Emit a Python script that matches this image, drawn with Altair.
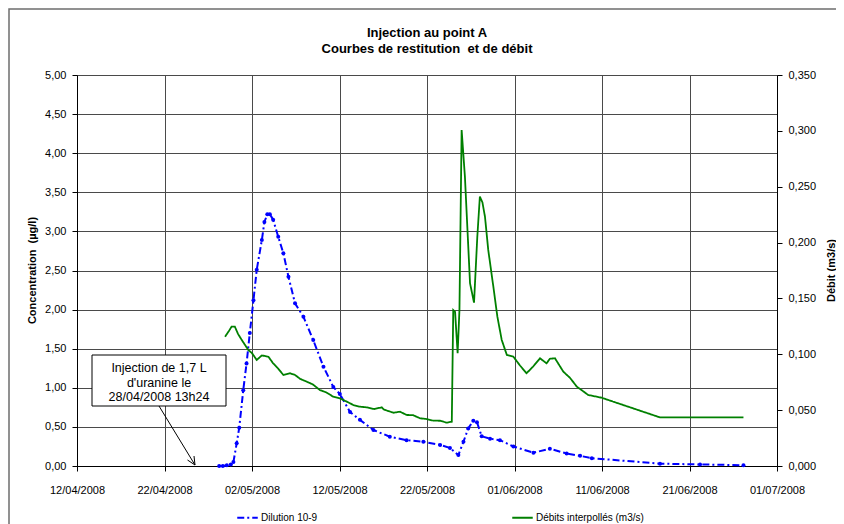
import altair as alt
import pandas as pd

title_lines = ["Injection au point A", "Courbes de restitution\u00a0 et de débit"]
series_names = ["Dilution 10-9", "Débits interpollés (m3/s)"]
series_colors = ["#0000ff", "#008000"]
series_dashes = [[7, 3, 2, 3], [1, 0]]
left_title = "Concentration\u00a0 (µg/l)"
right_title = "Débit (m3/s)"
annotation_lines = ["Injection de 1,7 L", "d'uranine le", "28/04/2008 13h24"]

x_ticks = [(2008, 4, 12), (2008, 4, 22), (2008, 5, 2), (2008, 5, 12), (2008, 5, 22),
           (2008, 6, 1), (2008, 6, 11), (2008, 6, 21), (2008, 7, 1)]
conc_ticks = [0, 0.5, 1, 1.5, 2, 2.5, 3, 3.5, 4, 4.5, 5]
debit_ticks = [0, 0.05, 0.1, 0.15, 0.2, 0.25, 0.3, 0.35]

blue_dates = [
    "2008-04-28 06:00", "2008-04-28 16:00", "2008-04-29 03:00", "2008-04-29 14:00",
    "2008-04-29 21:00", "2008-04-30 06:00", "2008-04-30 13:00", "2008-05-01 00:00",
    "2008-05-01 09:00", "2008-05-01 18:00", "2008-05-02 04:00", "2008-05-02 13:00",
    "2008-05-03 03:00", "2008-05-03 10:00", "2008-05-03 18:00", "2008-05-04 01:00",
    "2008-05-04 10:00", "2008-05-05 00:00", "2008-05-05 14:00", "2008-05-06 04:00",
    "2008-05-06 22:00", "2008-05-07 21:00", "2008-05-09 00:00", "2008-05-10 04:00",
    "2008-05-11 07:00", "2008-05-12 01:00", "2008-05-13 05:00", "2008-05-14 08:00",
    "2008-05-15 21:00", "2008-05-17 18:00", "2008-05-19 16:00", "2008-05-21 14:00",
    "2008-05-23 12:00", "2008-05-24 15:00", "2008-05-25 14:00", "2008-05-26 04:00",
    "2008-05-26 17:00", "2008-05-27 07:00", "2008-05-27 17:00", "2008-05-28 06:00",
    "2008-05-29 05:00", "2008-05-30 08:00", "2008-05-31 21:00", "2008-06-03 04:00",
    "2008-06-05 01:00", "2008-06-06 23:00", "2008-06-08 12:00", "2008-06-09 20:00",
    "2008-06-17 15:00", "2008-06-22 05:00", "2008-06-27 04:00",
]
blue_conc = [
    0.00, 0.00, 0.01, 0.02,
    0.05, 0.29, 0.49, 0.97,
    1.31, 1.70, 2.12, 2.51,
    2.89, 3.12, 3.22, 3.22,
    3.15, 2.93, 2.72, 2.42,
    2.08, 1.91, 1.61, 1.27,
    1.01, 0.92, 0.69, 0.59,
    0.46, 0.375, 0.33, 0.31,
    0.27, 0.23, 0.14, 0.31,
    0.48, 0.58, 0.56, 0.38,
    0.35, 0.33, 0.25, 0.17,
    0.22, 0.16, 0.13, 0.10,
    0.03, 0.02, 0.01,
]

green_dates = [
    "2008-04-28 22:00", "2008-04-29 09:00", "2008-04-29 16:00", "2008-04-30 01:00",
    "2008-04-30 10:00", "2008-04-30 20:00", "2008-05-01 14:00", "2008-05-02 00:00",
    "2008-05-02 13:00", "2008-05-03 03:00", "2008-05-03 21:00", "2008-05-04 10:00",
    "2008-05-04 23:00", "2008-05-05 14:00", "2008-05-06 08:00", "2008-05-06 22:00",
    "2008-05-07 12:00", "2008-05-08 06:00", "2008-05-08 23:00", "2008-05-09 18:00",
    "2008-05-10 11:00", "2008-05-11 07:00", "2008-05-12 01:00", "2008-05-12 20:00",
    "2008-05-13 14:00", "2008-05-14 08:00", "2008-05-15 03:00", "2008-05-15 23:00",
    "2008-05-16 20:00", "2008-05-17 02:00", "2008-05-18 04:00", "2008-05-18 22:00",
    "2008-05-19 16:00", "2008-05-20 10:00", "2008-05-21 05:00", "2008-05-22 00:00",
    "2008-05-22 17:00", "2008-05-23 12:00", "2008-05-24 06:00", "2008-05-24 20:00",
    "2008-05-25 00:00", "2008-05-25 05:00", "2008-05-25 12:00", "2008-05-25 17:00",
    "2008-05-25 23:00", "2008-05-26 08:00", "2008-05-26 22:00", "2008-05-27 09:00",
    "2008-05-27 18:00", "2008-05-28 01:00", "2008-05-28 08:00", "2008-05-28 15:00",
    "2008-05-29 00:00", "2008-05-29 14:00", "2008-05-30 01:00", "2008-05-30 13:00",
    "2008-05-31 03:00", "2008-05-31 21:00", "2008-06-01 15:00", "2008-06-02 09:00",
    "2008-06-03 03:00", "2008-06-03 22:00", "2008-06-04 16:00", "2008-06-05 01:00",
    "2008-06-05 15:00", "2008-06-06 14:00", "2008-06-07 08:00", "2008-06-08 03:00",
    "2008-06-08 20:00", "2008-06-09 10:00", "2008-06-10 23:00", "2008-06-17 15:00",
    "2008-06-27 04:00",
]
green_debit = [
    0.1157, 0.1210, 0.1247, 0.1247,
    0.1180, 0.1128, 0.1038, 0.1010,
    0.0949, 0.0990, 0.0978, 0.0919,
    0.0875, 0.0815, 0.0830, 0.0815,
    0.0780, 0.0755, 0.0730, 0.0680,
    0.0660, 0.0620, 0.0606, 0.0576,
    0.0546, 0.0531, 0.0525, 0.0510,
    0.0525, 0.0505, 0.0477, 0.0486,
    0.0457, 0.0455, 0.0427, 0.0420,
    0.0406, 0.0405, 0.0388, 0.0397,
    0.1396, 0.1380, 0.1009, 0.1396,
    0.3008, 0.2590, 0.1636, 0.1462,
    0.2053, 0.2411, 0.2360, 0.2232,
    0.1934, 0.1605, 0.1337, 0.1128,
    0.0994, 0.0978, 0.0900, 0.0830,
    0.0890, 0.0964, 0.0919, 0.0960,
    0.0964, 0.0844, 0.0790, 0.0710,
    0.0670, 0.0636, 0.0611, 0.0435,
    0.0435,
]

df_blue = pd.DataFrame({"date": blue_dates, "conc": blue_conc, "serie": series_names[0]})
df_green = pd.DataFrame({"date": green_dates, "debit": green_debit, "serie": series_names[1]})

FONT = "Liberation Sans"
GRID = "#4a4a4a"

def dt(t):
    return alt.DateTime(year=t[0], month=t[1], date=t[2])

x_axis = alt.Axis(
    values=[dt(t) for t in x_ticks], format="%d/%m/%Y", title=None, labelFlush=False,
    grid=True, gridColor=GRID, gridWidth=1, domainColor="#000", tickColor="#000",
    tickSize=5, labelPadding=13, labelFontSize=11, labelColor="#000", labelFont=FONT,
)
x_enc = alt.X("date:T", scale=alt.Scale(domain=[dt(x_ticks[0]), dt(x_ticks[-1])]), axis=x_axis)

legend_def = alt.Legend(title=None, orient="none", legendX=159, legendY=431, direction="horizontal",
                        symbolType="stroke", symbolStrokeWidth=2, symbolSize=420,
                        labelFontSize=10, labelFont=FONT, labelColor="#000",
                        columnPadding=190, symbolOffset=0, labelOffset=2)
color_enc = alt.Color("serie:N", scale=alt.Scale(domain=series_names, range=series_colors), legend=legend_def)
dash_enc = alt.StrokeDash("serie:N", scale=alt.Scale(domain=series_names, range=series_dashes), legend=legend_def)

blue = alt.Chart(df_blue).mark_line(
    strokeWidth=2, point=alt.OverlayMarkDef(filled=True, size=16, shape="circle", color="#0000ff")
).encode(
    x=x_enc,
    y=alt.Y("conc:Q", scale=alt.Scale(domain=[0, 5], nice=False),
            axis=alt.Axis(orient="left", values=conc_ticks, grid=True, gridColor=GRID,
                          labelExpr="replace(format(datum.value, '.2f'), '.', ',')",
                          title=left_title, titleFontSize=11, titleFont=FONT, titleFontWeight="bold",
                          titleColor="#000", titleX=-45, titleY=195, titleAngle=-90,
                          titleAlign="center", titleBaseline="middle",
                          domainColor="#000", tickColor="#000", tickSize=5, labelPadding=6,
                          labelFontSize=11, labelFont=FONT, labelColor="#000")),
    color=color_enc, strokeDash=dash_enc,
)

green = alt.Chart(df_green).mark_line(strokeWidth=1.8).encode(
    x=x_enc,
    y=alt.Y("debit:Q", scale=alt.Scale(domain=[0, 0.35], nice=False),
            axis=alt.Axis(orient="right", values=debit_ticks, grid=False,
                          labelExpr="replace(format(datum.value, '.3f'), '.', ',')",
                          title=right_title, titleFontSize=11, titleFont=FONT, titleFontWeight="bold",
                          titleColor="#000", titleX=54, titleY=195, titleAngle=-90,
                          titleAlign="center", titleBaseline="middle",
                          domainColor="#000", tickColor="#000", tickSize=5, labelPadding=6,
                          labelFontSize=11, labelFont=FONT, labelColor="#000")),
    color=color_enc, strokeDash=dash_enc,
)

one = pd.DataFrame({"k": [0]})

border = alt.Chart(one).mark_rect(fill=None, stroke="#6e6e6e", strokeWidth=1.5).encode(
    x=alt.value(-68), x2=alt.value(800), y=alt.value(-66), y2=alt.value(480)
)

title1 = alt.Chart(one).mark_text(text=title_lines[0], font=FONT, fontSize=13, fontWeight="bold",
                                  color="#000", baseline="middle", align="center").encode(
    x=alt.value(350), y=alt.value(-42))
title2 = alt.Chart(one).mark_text(text=title_lines[1], font=FONT, fontSize=13, fontWeight="bold",
                                  color="#000", baseline="middle", align="center").encode(
    x=alt.value(350), y=alt.value(-26))

box = alt.Chart(one).mark_rect(fill="white", stroke="#000", strokeWidth=1).encode(
    x=alt.value(15), x2=alt.value(149), y=alt.value(280), y2=alt.value(331)
)
ann = [
    alt.Chart(one).mark_text(text=annotation_lines[i], font=FONT, fontSize=12.5, color="#000",
                             baseline="middle", align="center").encode(x=alt.value(82), y=alt.value(yy))
    for i, yy in enumerate([293, 307.5, 322])
]
arrow = alt.Chart(one).mark_rule(color="#000", strokeWidth=1).encode(
    x=alt.value(82), y=alt.value(331), x2=alt.value(118), y2=alt.value(390)
)
head1 = alt.Chart(one).mark_rule(color="#000", strokeWidth=1).encode(
    x=alt.value(110.5), y=alt.value(385), x2=alt.value(118), y2=alt.value(390)
)
head2 = alt.Chart(one).mark_rule(color="#000", strokeWidth=1).encode(
    x=alt.value(117), y=alt.value(381), x2=alt.value(118), y2=alt.value(390)
)

chart = alt.layer(border, title1, title2, blue, green, box, *ann, arrow, head1, head2).resolve_scale(
    y="independent"
).properties(
    width=700, height=391,
    autosize=alt.AutoSizeParams(type="none"),
    padding={"left": 69, "top": 67, "right": 59, "bottom": 60},
).configure_view(stroke=None).configure(background="white")

chart.save("out.html", embed_options={"renderer": "svg", "actions": False})
